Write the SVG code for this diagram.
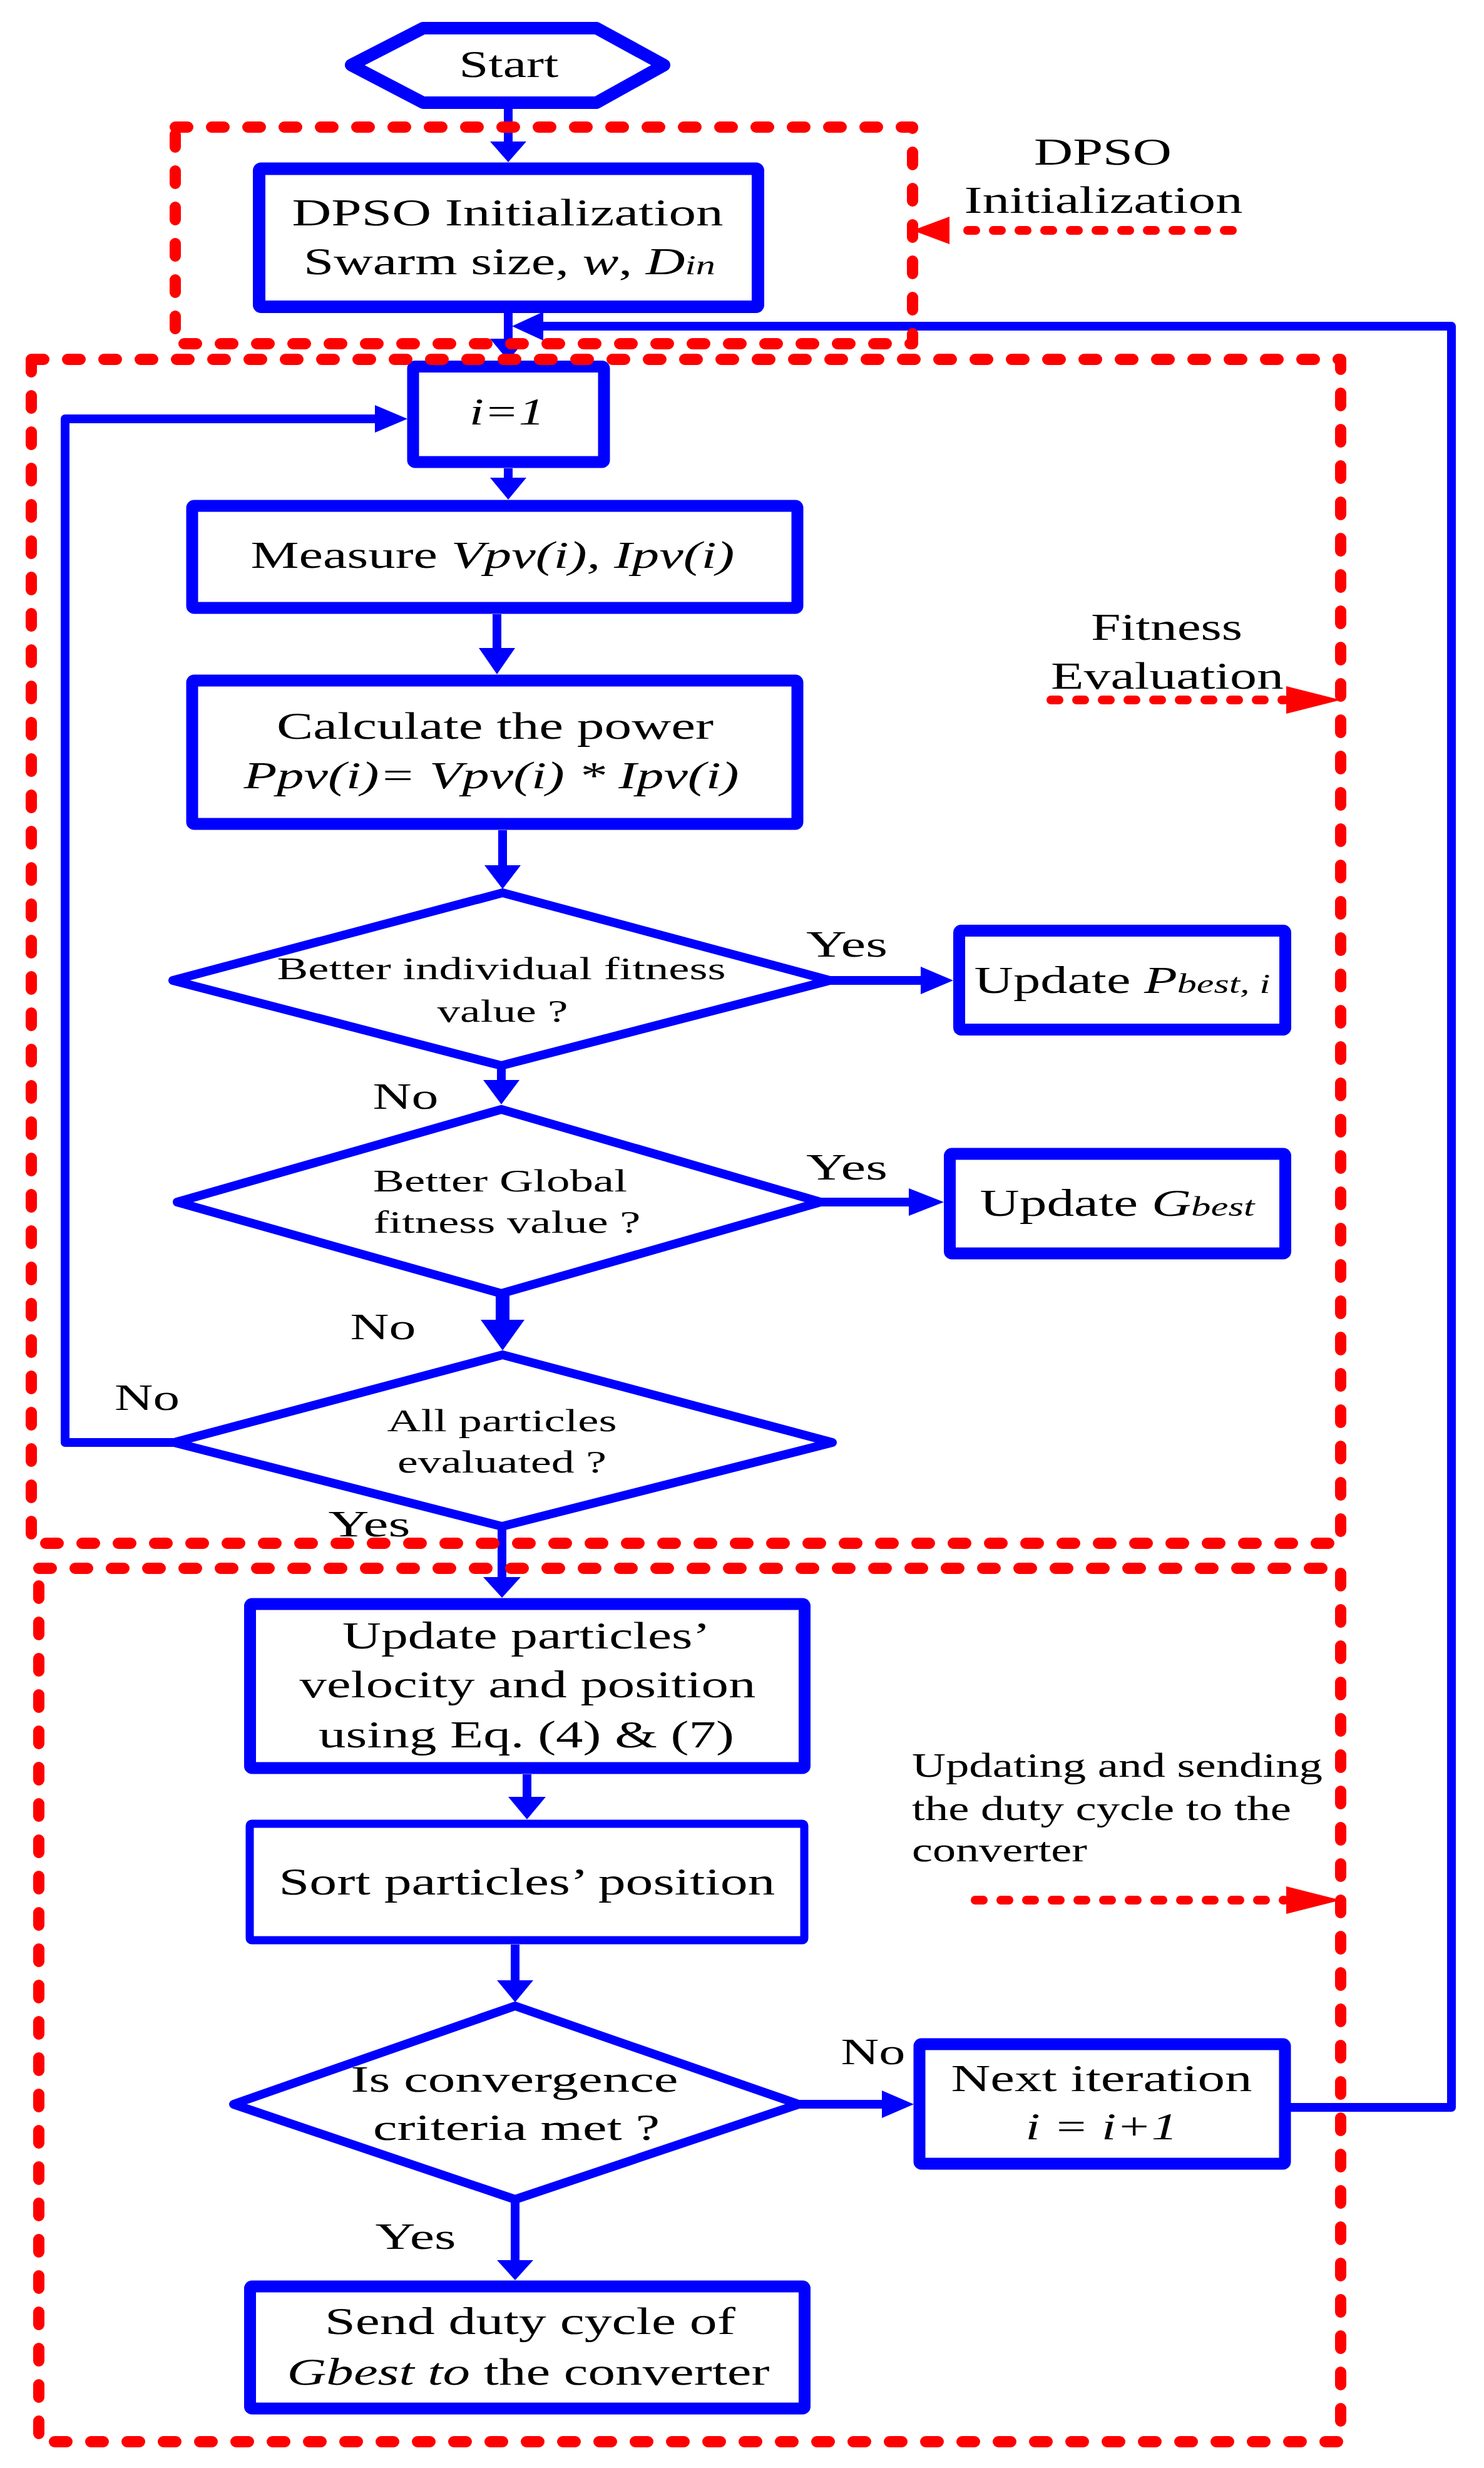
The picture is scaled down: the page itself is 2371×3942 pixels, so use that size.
<svg xmlns="http://www.w3.org/2000/svg" width="2371" height="3942" viewBox="0 0 2371 3942">
<style>
text{font-family:"Liberation Serif","Times New Roman",serif;fill:#000;text-anchor:middle}
.f62{font-size:62px}.f50{font-size:50px}.f60{font-size:60px}.f55{font-size:55px}
.l{text-anchor:start}
.i{font-style:italic}
.s{font-size:0.72em}
.box{fill:#fff;stroke:#0000ff;stroke-width:19;stroke-linejoin:round}
.thin{stroke-width:13}
.dia{fill:#fff;stroke:#0000ff;stroke-width:14;stroke-linejoin:round}
.ln{fill:none;stroke:#0000ff;stroke-width:14;stroke-linejoin:round}
.ah{fill:#0000ff;stroke:none}
.reg{fill:none;stroke:#ff0000;stroke-width:18;stroke-linecap:round;stroke-dasharray:20 38;stroke-linejoin:round}
.dot{fill:none;stroke:#ff0000;stroke-width:14;stroke-linecap:round;stroke-dasharray:13 28}
.rah{fill:#ff0000;stroke:none}
</style>
<rect width="2371" height="3942" fill="#fff"/>

<g id="connectors">
<!-- Start -> DPSO -->
<path class="ln" d="M812 164V230"/><path class="ah" d="M783 226H841L812 259Z"/>
<!-- DPSO -> i=1 -->
<path class="ln" d="M812 500V545"/><path class="ah" d="M783 541H841L812 576Z"/>
<!-- feedback from Next -->
<path class="ln" d="M2062 3366H2319V521H866"/><path class="ah" d="M868 498V544L818 521Z"/>
<!-- i=1 -> Measure -->
<path class="ln" d="M812 748V766"/><path class="ah" d="M783 763H841L812 798Z"/>
<!-- Measure -> Calc -->
<path class="ln" d="M794 981V1038"/><path class="ah" d="M765 1035H823L794 1077Z"/>
<!-- Calc -> D1 -->
<path class="ln" d="M803 1326V1385"/><path class="ah" d="M774 1382H832L803 1420Z"/>
<!-- D1 yes -> Pbest -->
<path class="ln" d="M1326 1566H1474"/><path class="ah" d="M1471 1544V1588L1523 1566Z"/>
<!-- D1 no -> D2 -->
<path class="ln" d="M801 1702V1728"/><path class="ah" d="M772 1725H830L801 1764Z"/>
<!-- D2 yes -> Gbest -->
<path class="ln" d="M1311 1920H1455"/><path class="ah" d="M1452 1898V1942L1508 1920Z"/>
<!-- D2 no -> D3 -->
<path class="ln" style="stroke-width:22" d="M803 2066V2112"/><path class="ah" d="M768 2108H838L803 2157Z"/>
<!-- D3 no -> i=1 -->
<path class="ln" d="M278 2304H104V669H602"/><path class="ah" d="M599 647V691L651 669Z"/>
<!-- D3 yes -> Update -->
<path class="ln" d="M802 2438V2522"/><path class="ah" d="M772 2519H832L802 2552Z"/>
<!-- Update -> Sort -->
<path class="ln" d="M842 2834V2873"/><path class="ah" d="M812 2870H872L842 2906Z"/>
<!-- Sort -> Conv -->
<path class="ln" d="M823 3106V3166"/><path class="ah" d="M794 3163H852L823 3198Z"/>
<!-- Conv yes -> Send -->
<path class="ln" d="M823 3513V3613"/><path class="ah" d="M794 3610H852L823 3642Z"/>
<!-- Conv no -> Next -->
<path class="ln" d="M1276 3361H1412"/><path class="ah" d="M1409 3339V3383L1460 3361Z"/>
</g>

<g id="start">
<path class="box" style="stroke-width:20" d="M561 104L676 45H953L1061 104L953 164H676Z"/>
<text class="f62" x="813" y="123" textLength="159" lengthAdjust="spacingAndGlyphs">Start</text>
</g>

<g id="dpso-init">
<rect class="box" style="stroke-width:20" x="414" y="269.5" width="797" height="220.5" rx="3"/>
<text class="f62" x="811" y="360" textLength="689" lengthAdjust="spacingAndGlyphs">DPSO Initialization</text>
<text class="f62" x="814" y="438" textLength="658" lengthAdjust="spacingAndGlyphs">Swarm size, <tspan class="i">w</tspan>, <tspan class="i">D</tspan><tspan class="i s">in</tspan></text>
</g>

<g id="i-init">
<rect class="box" x="660" y="585.5" width="305" height="152.5" rx="3"/>
<text class="f62 i" x="810" y="678" textLength="120" lengthAdjust="spacingAndGlyphs">i=1</text>
</g>

<g id="measure">
<rect class="box" x="307" y="808" width="967" height="163" rx="3"/>
<text class="f62" x="787" y="907" textLength="773" lengthAdjust="spacingAndGlyphs">Measure <tspan class="i">Vpv(i), Ipv(i)</tspan></text>
</g>

<g id="calculate">
<rect class="box" x="307" y="1087" width="967" height="229" rx="3"/>
<text class="f62" x="791" y="1180" textLength="698" lengthAdjust="spacingAndGlyphs">Calculate the power</text>
<text class="f62 i" x="785" y="1259" textLength="791" lengthAdjust="spacingAndGlyphs">Ppv(i)= Vpv(i)  * Ipv(i)</text>
</g>

<g id="better-individual">
<path class="dia" d="M803 1426L1326 1566L801 1702L276 1566Z"/>
<text class="f50" x="801" y="1564" textLength="717" lengthAdjust="spacingAndGlyphs">Better individual fitness</text>
<text class="f50" x="803" y="1632" textLength="209" lengthAdjust="spacingAndGlyphs">value ?</text>
</g>

<g id="update-pbest">
<rect class="box" x="1532.5" y="1486.5" width="521" height="158" rx="3"/>
<text class="f62" x="1793" y="1586" textLength="473" lengthAdjust="spacingAndGlyphs">Update <tspan class="i">P</tspan><tspan class="i s">best, i</tspan></text>
</g>

<g id="better-global">
<path class="dia" d="M801 1772L1311 1920L801 2066L283 1920Z"/>
<text class="f50" x="799" y="1903" textLength="406" lengthAdjust="spacingAndGlyphs">Better Global</text>
<text class="f50" x="810" y="1969" textLength="427" lengthAdjust="spacingAndGlyphs">fitness value ?</text>
</g>

<g id="update-gbest">
<rect class="box" x="1517.5" y="1843" width="536" height="159" rx="3"/>
<text class="f62" x="1785" y="1942" textLength="439" lengthAdjust="spacingAndGlyphs">Update <tspan class="i">G</tspan><tspan class="i s">best</tspan></text>
</g>

<g id="all-evaluated">
<path class="dia" d="M803 2164L1330 2304L802 2438L278 2304Z"/>
<text class="f50" x="802" y="2286" textLength="367" lengthAdjust="spacingAndGlyphs">All particles</text>
<text class="f50" x="802" y="2352" textLength="334" lengthAdjust="spacingAndGlyphs">evaluated ?</text>
</g>

<g id="update-particles">
<rect class="box" x="399.5" y="2562" width="886" height="262" rx="3"/>
<text class="f62" x="841" y="2633" textLength="588" lengthAdjust="spacingAndGlyphs">Update particles’</text>
<text class="f62" x="843" y="2711" textLength="729" lengthAdjust="spacingAndGlyphs">velocity and position</text>
<text class="f62" x="841" y="2791" textLength="664" lengthAdjust="spacingAndGlyphs">using Eq. (4) &amp; (7)</text>
</g>

<g id="sort">
<rect class="box thin" x="399" y="2913" width="886" height="186" rx="3"/>
<text class="f62" x="842" y="3026" textLength="793" lengthAdjust="spacingAndGlyphs">Sort particles’ position</text>
</g>

<g id="convergence">
<path class="dia" d="M823 3204L1276 3361L823 3513L373 3361Z"/>
<text class="f60" x="822" y="3341" textLength="523" lengthAdjust="spacingAndGlyphs">Is convergence</text>
<text class="f60" x="825" y="3418" textLength="458" lengthAdjust="spacingAndGlyphs">criteria met ?</text>
</g>

<g id="next-iteration">
<rect class="box" x="1469" y="3265" width="584" height="191" rx="3"/>
<text class="f62" x="1760" y="3340" textLength="481" lengthAdjust="spacingAndGlyphs">Next iteration</text>
<text class="f62 i" x="1760" y="3417" textLength="243" lengthAdjust="spacingAndGlyphs">i = i+1</text>
</g>

<g id="send">
<rect class="box" x="399.5" y="3652" width="886" height="195" rx="3"/>
<text class="f62" x="847" y="3728" textLength="656" lengthAdjust="spacingAndGlyphs">Send duty cycle of</text>
<text class="f62" x="844" y="3809" textLength="771" lengthAdjust="spacingAndGlyphs"><tspan class="i">Gbest to</tspan> the converter</text>
</g>

<g id="labels">
<text class="f60" x="1353" y="1528" textLength="130" lengthAdjust="spacingAndGlyphs">Yes</text>
<text class="f60" x="648" y="1771" textLength="105" lengthAdjust="spacingAndGlyphs">No</text>
<text class="f60" x="1353" y="1884" textLength="130" lengthAdjust="spacingAndGlyphs">Yes</text>
<text class="f60" x="612" y="2139" textLength="105" lengthAdjust="spacingAndGlyphs">No</text>
<text class="f60" x="235" y="2252" textLength="104" lengthAdjust="spacingAndGlyphs">No</text>
<text class="f60" x="590" y="2454" textLength="131" lengthAdjust="spacingAndGlyphs">Yes</text>
<text class="f60" x="1395" y="3297" textLength="103" lengthAdjust="spacingAndGlyphs">No</text>
<text class="f60" x="664" y="3592" textLength="129" lengthAdjust="spacingAndGlyphs">Yes</text>
</g>

<g id="regions">
<rect class="reg" x="280" y="203" width="1178" height="346"/>
<rect class="reg" x="50" y="574" width="2092" height="1891"/>
<rect class="reg" x="62" y="2505" width="2080" height="1395"/>
</g>

<g id="annotations">
<text class="f62" x="1762" y="263" textLength="220" lengthAdjust="spacingAndGlyphs">DPSO</text>
<text class="f62" x="1763" y="340" textLength="445" lengthAdjust="spacingAndGlyphs">Initialization</text>
<path class="dot" d="M1969 368H1520"/><path class="rah" d="M1517 346V390L1458 368Z"/>
<text class="f62" x="1864" y="1022" textLength="242" lengthAdjust="spacingAndGlyphs">Fitness</text>
<text class="f62" x="1865" y="1100" textLength="372" lengthAdjust="spacingAndGlyphs">Evaluation</text>
<path class="dot" d="M1679 1118H2052"/><path class="rah" d="M2055 1096V1140L2142 1118Z"/>
<text class="f55 l" x="1457" y="2838" textLength="656" lengthAdjust="spacingAndGlyphs">Updating and sending</text>
<text class="f55 l" x="1457" y="2907" textLength="606" lengthAdjust="spacingAndGlyphs">the duty cycle to the</text>
<text class="f55 l" x="1457" y="2973" textLength="280" lengthAdjust="spacingAndGlyphs">converter</text>
<path class="dot" d="M1558 3035H2052"/><path class="rah" d="M2055 3013V3057L2142 3035Z"/>
</g>
</svg>
